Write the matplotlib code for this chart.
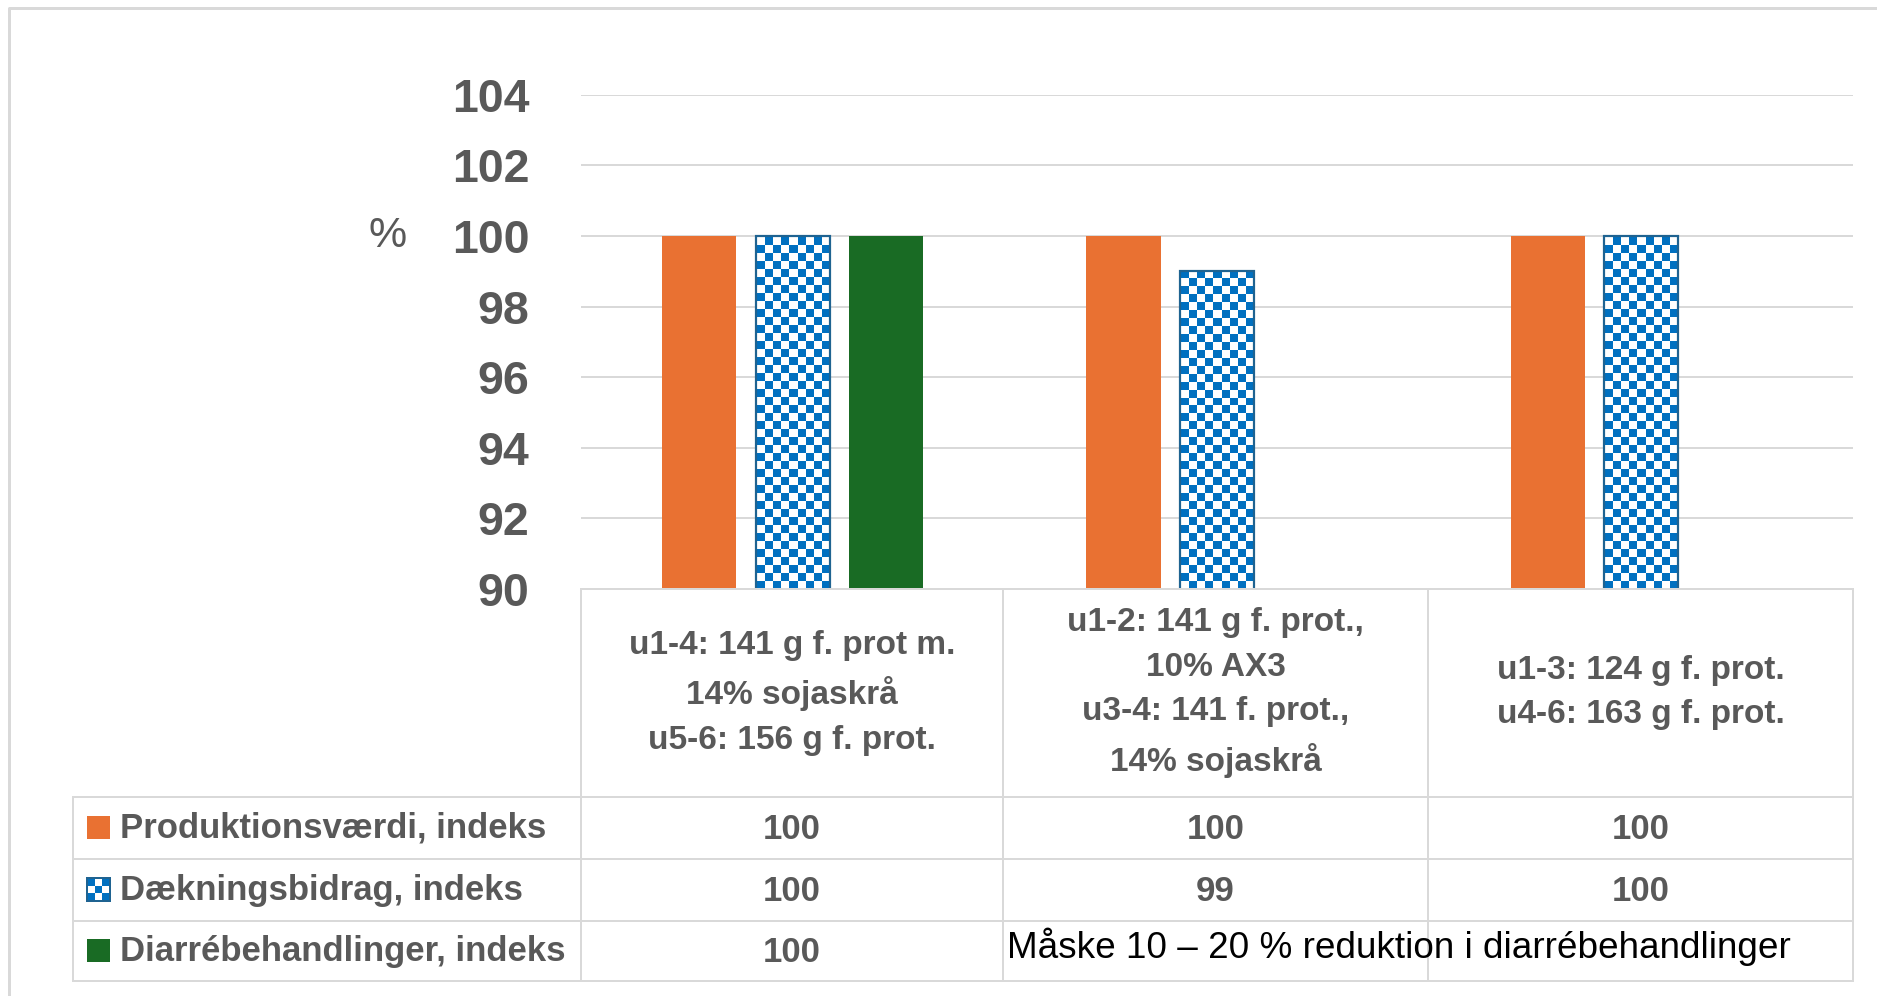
import numpy as np
import matplotlib
matplotlib.use("Agg")
import matplotlib.pyplot as plt
from matplotlib.patches import Rectangle
from matplotlib.colors import ListedColormap

plt.rcParams['font.family'] = ['Liberation Sans', 'DejaVu Sans']

# ---------------- data ----------------
categories = [
    "u1-4: 141 g f. prot m.\n14% sojaskrå\nu5-6: 156 g f. prot.",
    "u1-2: 141 g f. prot.,\n10% AX3\nu3-4: 141 f. prot.,\n14% sojaskrå",
    "u1-3: 124 g f. prot.\nu4-6: 163 g f. prot.",
]
series_names = ["Produktionsværdi, indeks", "Dækningsbidrag, indeks", "Diarrébehandlinger, indeks"]
produktion = [100, 100, 100]
daekning = [100, 99, 100]
diarre = [100, None, None]
diarre_note = "Måske 10 – 20 % reduktion i diarrébehandlinger"
yticks = [90, 92, 94, 96, 98, 100, 102, 104]
y_label = "%"

# ---------------- style ----------------
W, H = 1877, 996
ORANGE = "#E97132"
BLUE = "#0070C0"
BLUE_EDGE = "#1F6391"
GREEN = "#196B24"
GRID = "#D9D9D9"
TXT = "#595959"
PT = 72 / 100  # points per pixel at dpi 100

fig = plt.figure(figsize=(W / 100, H / 100), dpi=100)

ax_l, ax_r, ax_t, ax_b = 580.6, 1853, 94.8, 589
ax = fig.add_axes([ax_l / W, 1 - ax_b / H, (ax_r - ax_l) / W, (ax_b - ax_t) / H])
ax.set_xlim(-0.5, 2.5)
ax.set_ylim(90, 104)
ax.set_yticks(yticks)
ax.set_yticklabels([str(t) for t in yticks], fontsize=33.5, fontweight='bold', color=TXT)
ax.tick_params(axis='y', length=0, pad=37)
ax.set_xticks([])
for s in ax.spines.values():
    s.set_visible(False)
ax.set_axisbelow(True)
ax.yaxis.grid(True, color=GRID, linewidth=2 * PT)
ax.patch.set_alpha(0)

x = np.arange(len(categories))
off = 0.22
bw = 0.175

ax.bar(x - off, produktion, width=bw, color=ORANGE, zorder=3)
dvals = [v if v is not None else 0 for v in diarre]
ax.bar(x + off, dvals, width=bw, color=GREEN, zorder=3)
dbars = ax.bar(x, daekning, width=bw, facecolor='none', edgecolor=BLUE_EDGE,
               linewidth=2.2 * PT, zorder=4)

# checker pattern image (8 px cells)
ncols = int(round((ax_r - ax_l) / 8))
nrows = int(round((ax_b - ax_t) / 8))
checker = (np.add.outer(np.arange(nrows), np.arange(ncols)) % 2).astype(float)
cmap_chk = ListedColormap(["white", BLUE])
for b in dbars:
    im = ax.imshow(checker, cmap=cmap_chk, extent=[0, 1, 0, 1], transform=ax.transAxes,
                   interpolation='nearest', aspect='auto', zorder=3.5)
    im.set_clip_path(b)
ax.set_xlim(-0.5, 2.5)
ax.set_ylim(90, 104)

# ---------------- overlay: table, legend, labels ----------------
ov = fig.add_axes([0, 0, 1, 1])
ov.set_xlim(0, W)
ov.set_ylim(H, 0)
ov.axis('off')
ov.patch.set_alpha(0)

lw = 2 * PT
# chart border (left and top)
ov.plot([9, 9, W], [H, 8, 8], color=GRID, lw=3 * PT, solid_capstyle='butt')

col_x = [580.6, 1003, 1428, 1853]
row_y = [589, 796.5, 858.5, 920.5, 981]
leg_l = 73
ov.plot([col_x[0], col_x[-1]], [row_y[0], row_y[0]], color=GRID, lw=lw)
for yy in row_y[1:]:
    ov.plot([leg_l, col_x[-1]], [yy, yy], color=GRID, lw=lw)
for xx in col_x:
    ov.plot([xx, xx], [row_y[0], row_y[-1]], color=GRID, lw=lw)
ov.plot([leg_l, leg_l], [row_y[1], row_y[-1]], color=GRID, lw=lw)

centers = [(col_x[i] + col_x[i + 1]) / 2 for i in range(3)]
hdr_y = (row_y[0] + row_y[1]) / 2
for cx, lab in zip(centers, categories):
    ov.text(cx, hdr_y, lab, ha='center', va='center', fontsize=24, fontweight='bold',
            color=TXT, linespacing=1.56)

# y label %
ov.text(388, 236, y_label, ha='center', va='center', fontsize=31, color=TXT)

# legend rows
row_c = [(row_y[i] + row_y[i + 1]) / 2 for i in range(1, 4)]
for rc, name in zip(row_c, series_names):
    ov.text(120, rc + 10, name, ha='left', va='baseline', fontsize=25, fontweight='bold', color=TXT)
ms = 23
ov.add_patch(Rectangle((87, row_c[0] - ms / 2), ms, ms, facecolor=ORANGE, edgecolor='none'))
ov.add_patch(Rectangle((87, row_c[2] - ms / 2), ms, ms, facecolor=GREEN, edgecolor='none'))
mini = (np.add.outer(np.arange(3), np.arange(3)) % 2 == 0).astype(float)
ov.imshow(mini, cmap=cmap_chk, extent=[87, 87 + ms, row_c[1] + ms / 2, row_c[1] - ms / 2],
          interpolation='nearest', aspect='auto', zorder=2)
ov.add_patch(Rectangle((87, row_c[1] - ms / 2), ms, ms, facecolor='none',
                       edgecolor=BLUE_EDGE, lw=2 * PT, zorder=3))
ov.set_xlim(0, W)
ov.set_ylim(H, 0)

# values
for vals, rc in zip([produktion, daekning, diarre], row_c):
    for cx, v in zip(centers, vals):
        if v is not None:
            ov.text(cx, rc + 11, f"{v:g}", ha='center', va='baseline', fontsize=25,
                    fontweight='bold', color=TXT)
ov.text(1007, 958, diarre_note, ha='left', va='baseline', fontsize=26.6, color='black')

fig.savefig("out.png", dpi=100, facecolor='white')
